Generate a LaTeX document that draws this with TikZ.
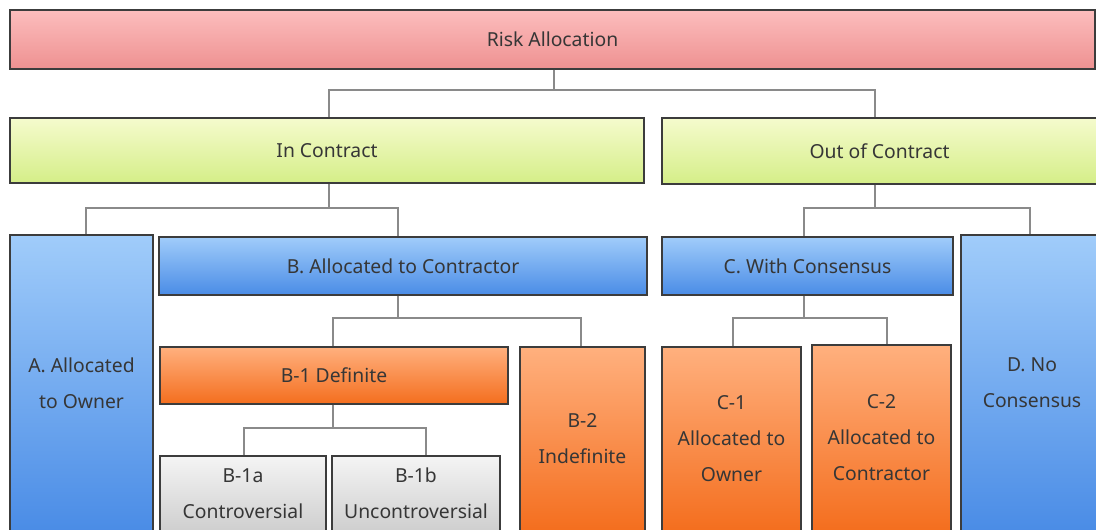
\documentclass[tikz,border=0pt]{standalone}
\usepackage{fontspec}
\setmainfont{Noto Sans}
\definecolor{txt}{HTML}{363636}
\definecolor{bord}{HTML}{3C3C3C}
\definecolor{conncol}{HTML}{8A8A8A}
\definecolor{pinkT}{HTML}{FCBDBD}
\definecolor{pinkB}{HTML}{EE9191}
\definecolor{greenT}{HTML}{F5FBCD}
\definecolor{greenB}{HTML}{D5EE88}
\definecolor{blueT}{HTML}{A0CCFA}
\definecolor{blueB}{HTML}{4A8CE6}
\definecolor{orT}{HTML}{FFB07E}
\definecolor{orB}{HTML}{F46E1E}
\definecolor{grayT}{HTML}{F4F4F4}
\definecolor{grayB}{HTML}{CFCFCF}
\newcommand\bx[7]{\node[boxbase,#6,minimum width={(#4-#2)*0.75pt},minimum height={(#5-#3)*0.75pt}] (#1) at ({(#2+#4)/2},{(#3+#5)/2}) {#7};}
\tikzset{
  boxbase/.style={draw=bord,line width=1.1pt,inner sep=0pt,align=center,text=txt,
    font=\fontsize{14.5}{27}\selectfont},
  pinkbox/.style={top color=pinkT,bottom color=pinkB},
  greenbox/.style={top color=greenT,bottom color=greenB},
  bluebox/.style={top color=blueT,bottom color=blueB},
  orbox/.style={top color=orT,bottom color=orB},
  graybox/.style={top color=grayT,bottom color=grayB},
  conn/.style={draw=conncol,line width=0.8pt},
}
\begin{document}
\begin{tikzpicture}[x=0.75pt,y=-0.75pt]
\useasboundingbox (0,0) rectangle (1096,529);
\clip (0,0) rectangle (1096,529);
\fill[white] (0,0) rectangle (1096,529);
\coordinate (j1) at (554,90);
\coordinate (j2) at (329,208);
\coordinate (j3) at (875,208);
\coordinate (j4) at (398,318);
\coordinate (j5) at (804,318);
\coordinate (j6) at (333,428);
% boxes
\bx{risk}{10}{10}{1095}{69}{pinkbox}{Risk Allocation}
\bx{inc}{10}{118}{644}{183}{greenbox}{In Contract}
\bx{outc}{662}{118}{1097}{184}{greenbox}{Out of Contract}
\bx{a}{10}{235}{153}{531}{bluebox}{A. Allocated\\to Owner}
\bx{b}{159}{237}{647}{295}{bluebox}{B. Allocated to Contractor}
\bx{c}{662}{237}{953}{295}{bluebox}{C. With Consensus}
\bx{d}{961}{235}{1103}{531}{bluebox}{D. No\\Consensus}
\bx{b1}{160}{347}{508}{404}{orbox}{B-1 Definite}
\bx{b2}{520}{347}{645}{531}{orbox}{B-2\\Indefinite}
\bx{c1}{662}{347}{801}{531}{orbox}{C-1\\Allocated to\\Owner}
\bx{c2}{812}{345}{951}{531}{orbox}{C-2\\Allocated to\\Contractor}
\bx{b1a}{160}{456}{326}{531}{graybox}{B-1a\\Controversial}
\bx{b1b}{332}{456}{500}{531}{graybox}{B-1b\\Uncontroversial}
% connectors
\draw[conn] (risk.south -| j1) -- (j1);
\draw[conn] (j1) -| (inc.north -| j2);
\draw[conn] (j1) -| (outc.north -| j3);
\draw[conn] (inc.south -| j2) -- (j2);
\draw[conn] (j2) -| ([xshift=4.5*0.75pt]a.north);
\draw[conn] (j2) -| (b.north -| j4);
\draw[conn] (outc.south -| j3) -- (j3);
\draw[conn] (j3) -| (c.north -| j5);
\draw[conn] (j3) -| ([xshift=-2*0.75pt]d.north);
\draw[conn] (b.south -| j4) -- (j4);
\draw[conn] (j4) -| (b1.north -| j6);
\draw[conn] (j4) -| ([xshift=-1.5*0.75pt]b2.north);
\draw[conn] (c.south -| j5) -- (j5);
\draw[conn] (j5) -| ([xshift=1.5*0.75pt]c1.north);
\draw[conn] (j5) -| ([xshift=5.5*0.75pt]c2.north);
\draw[conn] (b1.south -| j6) -- (j6);
\draw[conn] (j6) -| ([xshift=1*0.75pt]b1a.north);
\draw[conn] (j6) -| ([xshift=10*0.75pt]b1b.north);
\end{tikzpicture}
\end{document}
